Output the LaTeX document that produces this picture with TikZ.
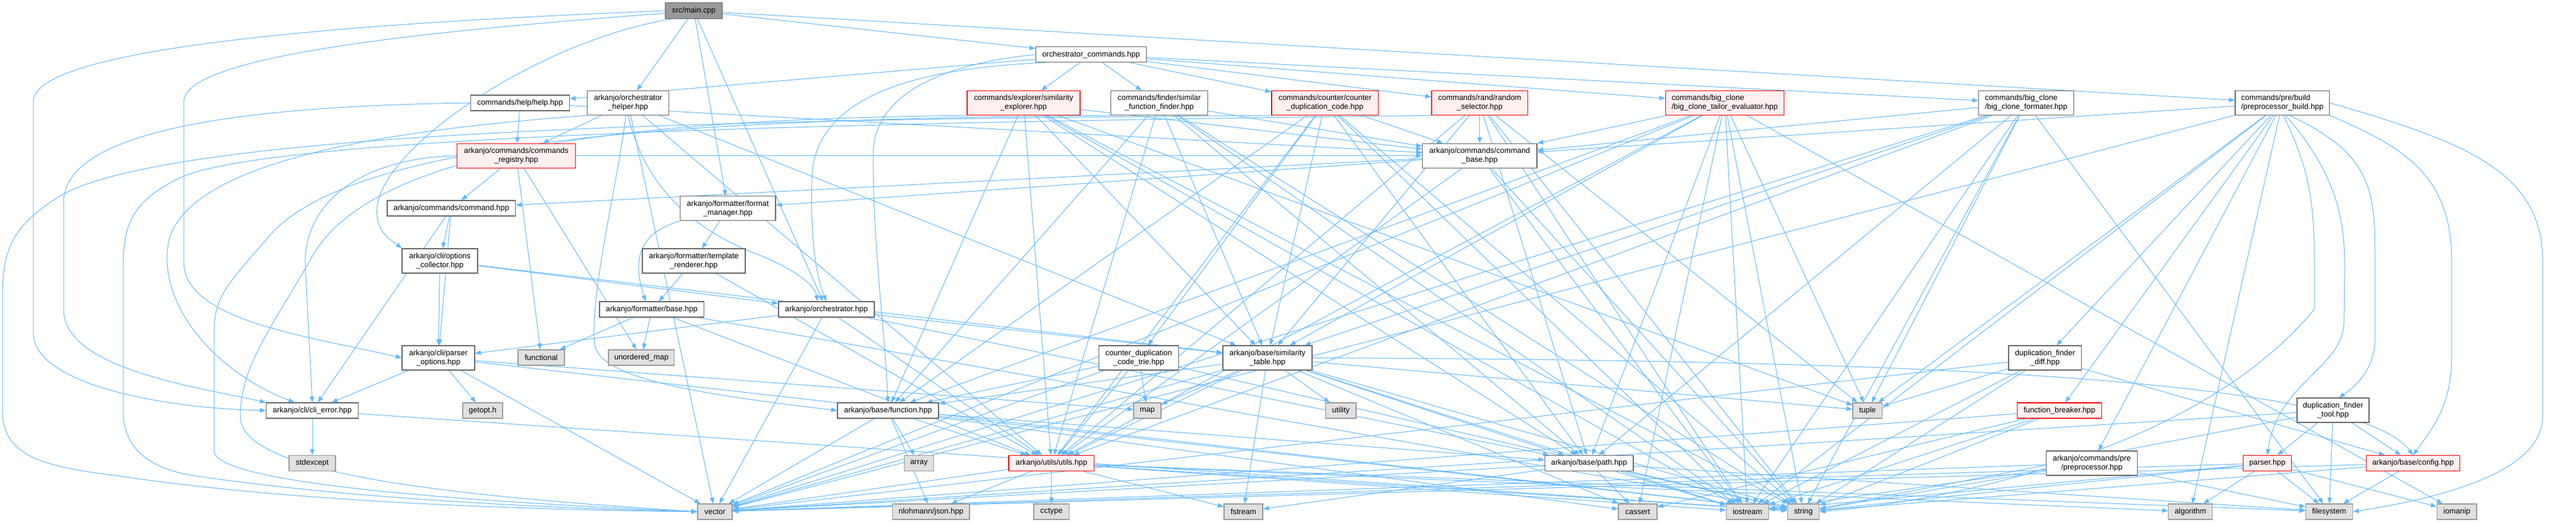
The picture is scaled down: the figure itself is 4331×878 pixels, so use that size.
\documentclass[tikz,border=0pt]{standalone}
\usepackage{fontspec}
\setmainfont{Liberation Sans}
\usetikzlibrary{arrows.meta}
\pgfdeclarelayer{bg}
\pgfsetlayers{bg,main}
\definecolor{edgec}{HTML}{63B8FF}
\definecolor{nbord}{HTML}{666666}
\definecolor{rbord}{HTML}{FF0000}
\definecolor{rfill}{HTML}{FFF0F0}
\definecolor{lbord}{HTML}{999999}
\definecolor{lfill}{HTML}{E0E0E0}
\definecolor{mfill}{HTML}{999999}
\tikzset{
 nb/.style={draw=nbord, fill=white, line width=1.2pt, inner sep=0pt, align=center, font=\fontsize{12.9}{15}\selectfont, text=black},
 nr/.style={nb, draw=rbord, fill=rfill},
 nl/.style={nb, draw=lbord, fill=lfill},
 nm/.style={nb, fill=mfill},
 e/.style={draw=edgec, line width=1pt, -{Triangle[length=10pt,width=7.5pt]}},
}
\newcommand\mynode[6]{\node[#1, minimum width=#2pt, minimum height=#3pt] (#4) at (#5) {#6};}
\begin{document}
\begin{tikzpicture}[x=1pt,y=-1pt]
\useasboundingbox (0,0) rectangle (4331,878);
\mynode{nm}{96}{27}{main}{1166.5,18}{src/main.cpp}
\mynode{nb}{186}{26}{orchcmd}{1834.4,91.7}{orchestrator\_commands.hpp}
\mynode{nb}{165.6}{26}{help}{874.4,173}{commands/help/help.hpp}
\mynode{nb}{137}{41}{helper}{1055.9,173}{arkanjo/orchestrator\\\_helper.hpp}
\mynode{nr}{190}{41}{simexp}{1721,173}{commands/explorer/similarity\\\_explorer.hpp}
\mynode{nb}{163.3}{41}{simfind}{1949,173}{commands/finder/similar\\\_function\_finder.hpp}
\mynode{nr}{179.5}{41}{cntdup}{2227.7,173}{commands/counter/counter\\\_duplication\_code.hpp}
\mynode{nr}{161.6}{41}{randsel}{2487.8,173}{commands/rand/random\\\_selector.hpp}
\mynode{nr,align=left}{199}{41}{bctailor}{2899.8,173}{commands/big\_clone\\/big\_clone\_tailor\_evaluator.hpp}
\mynode{nb,align=left}{159.5}{41}{bcformat}{3406.5,173}{commands/big\_clone\\/big\_clone\_formater.hpp}
\mynode{nb,align=left}{158.5}{41}{prebuild}{3837.3,173}{commands/pre/build\\/preprocessor\_build.hpp}
\mynode{nr}{199.2}{41}{registry}{868,261.7}{arkanjo/commands/commands\\\_registry.hpp}
\mynode{nb}{192.4}{41}{cmdbase}{2487.8,261.7}{arkanjo/commands/command\\\_base.hpp}
\mynode{nb}{215.6}{26}{command}{758.8,350}{arkanjo/commands/command.hpp}
\mynode{nb}{160.4}{41}{fmtmgr}{1223.8,350.3}{arkanjo/formatter/format\\\_manager.hpp}
\mynode{nb}{127}{41}{optcoll}{739.5,438.5}{arkanjo/cli/options\\\_collector.hpp}
\mynode{nb}{173}{41}{tmplrend}{1166.5,438.5}{arkanjo/formatter/template\\\_renderer.hpp}
\mynode{nb}{175.7}{26}{fmtbase}{1095.8,520}{arkanjo/formatter/base.hpp}
\mynode{nb}{161}{26}{orch}{1389.5,520}{arkanjo/orchestrator.hpp}
\mynode{nb}{122}{41}{parseropt}{737,601.5}{arkanjo/cli/parser\\\_options.hpp}
\mynode{nl}{78}{26}{functional}{910,601}{functional}
\mynode{nl}{110.7}{26}{unordmap}{1078.4,601}{unordered\_map}
\mynode{nb}{134}{41}{cdtrie}{1914.6,601.5}{counter\_duplication\\\_code\_trie.hpp}
\mynode{nb}{150}{41}{simtable}{2131,601.5}{arkanjo/base/similarity\\\_table.hpp}
\mynode{nb}{122.5}{41}{dfdiff}{3438.3,601.5}{duplication\_finder\\\_diff.hpp}
\mynode{nb}{154.7}{26}{clierror}{525,690}{arkanjo/cli/cli\_error.hpp}
\mynode{nl}{67}{26}{getopt}{811.5,690}{getopt.h}
\mynode{nb}{170}{26}{function}{1493,690}{arkanjo/base/function.hpp}
\mynode{nl}{46}{26}{map}{1929,690}{map}
\mynode{nl}{51.2}{26}{utility}{2254.4,690}{utility}
\mynode{nl}{49.5}{26}{tuple}{3139.8,690}{tuple}
\mynode{nr}{142}{26}{fbreaker}{3462.5,690}{function\_breaker.hpp}
\mynode{nb}{121}{41}{dftool}{3922.5,689.5}{duplication\_finder\\\_tool.hpp}
\mynode{nl}{78}{26}{stdexcept}{525,778.5}{stdexcept}
\mynode{nl}{49.5}{26}{array}{1545,778.5}{array}
\mynode{nr}{143.5}{26}{utils}{1767.8,778.5}{arkanjo/utils/utils.hpp}
\mynode{nb}{148.6}{26}{path}{2671.7,778.5}{arkanjo/base/path.hpp}
\mynode{nb}{153}{41}{preproc}{3517,778.5}{arkanjo/commands/pre\\/preprocessor.hpp}
\mynode{nr}{81}{26}{parser}{3812,778.5}{parser.hpp}
\mynode{nr}{157.5}{26}{config}{4057,778.5}{arkanjo/base/config.hpp}
\mynode{nl}{58}{26}{vector}{1202,860}{vector}
\mynode{nl}{129.3}{26}{json}{1565.4,860}{nlohmann/json.hpp}
\mynode{nl}{59.5}{26}{cctype}{1767.8,860}{cctype}
\mynode{nl}{65}{26}{fstream}{2090.5,860}{fstream}
\mynode{nl}{65}{26}{cassert}{2753.5,860}{cassert}
\mynode{nl}{71}{26}{iostream}{2938,860}{iostream}
\mynode{nl}{53.4}{26}{string}{3032,860}{string}
\mynode{nl}{74}{26}{algorithm}{3682.8,860}{algorithm}
\mynode{nl}{79}{26}{filesystem}{3916,860}{filesystem}
\mynode{nl}{66.6}{26}{iomanip}{4130.7,860}{iomanip}
\begin{pgfonlayer}{bg}
\fill[white] (0,0) rectangle (4331,878);
\foreach \s/\t in {main/orchcmd, main/helper, main/fmtmgr, main/orch, main/prebuild,
 orchcmd/help, orchcmd/simexp, orchcmd/simfind, orchcmd/cntdup, orchcmd/randsel, orchcmd/bctailor, orchcmd/bcformat,
 help/registry, help/cmdbase,
 helper/registry, helper/simtable, helper/utils, helper/vector,
 registry/command, registry/functional, registry/unordmap, registry/cmdbase,
 command/optcoll, command/parseropt, command/clierror,
 cmdbase/command, cmdbase/fmtmgr, cmdbase/utils, cmdbase/string, cmdbase/iostream,
 optcoll/parseropt, optcoll/orch, optcoll/simtable,
 fmtmgr/tmplrend,
 tmplrend/fmtbase, tmplrend/utils,
 fmtbase/functional, fmtbase/unordmap, fmtbase/utils, fmtbase/string,
 orch/parseropt, orch/simtable, orch/utils, orch/path, orch/vector,
 parseropt/getopt, parseropt/clierror, parseropt/vector, parseropt/map, parseropt/string,
 simexp/cmdbase, simexp/simtable, simexp/function, simexp/utils, simexp/path, simexp/string, simexp/iostream, simexp/tuple,
 simfind/cmdbase, simfind/simtable, simfind/function, simfind/utils, simfind/path, simfind/string, simfind/iostream,
 cntdup/cmdbase, cntdup/cdtrie, cntdup/simtable, cntdup/function, cntdup/utils, cntdup/path, cntdup/string, cntdup/iostream,
 randsel/cmdbase, randsel/simtable, randsel/utils, randsel/path, randsel/string, randsel/iostream, randsel/tuple,
 bctailor/cmdbase, bctailor/simtable, bctailor/function, bctailor/utils, bctailor/path, bctailor/string, bctailor/vector, bctailor/iostream, bctailor/tuple, bctailor/cassert, bctailor/iomanip,
 bcformat/cmdbase, bcformat/simtable, bcformat/utils, bcformat/path, bcformat/string, bcformat/iostream, bcformat/tuple, bcformat/filesystem, bcformat/vector,
 prebuild/cmdbase, prebuild/dfdiff, prebuild/fbreaker, prebuild/preproc, prebuild/tuple, prebuild/vector, prebuild/iostream, prebuild/algorithm,
 cdtrie/utils, cdtrie/map, cdtrie/function, cdtrie/string, cdtrie/vector,
 simtable/function, simtable/map, simtable/utility, simtable/utils, simtable/path, simtable/fstream, simtable/string, simtable/vector, simtable/tuple, simtable/iostream, simtable/cassert,
 function/array, function/json, function/utils, function/path, function/vector, function/string, function/cassert,
 utils/json, utils/cctype, utils/fstream, utils/vector, utils/string, utils/iostream, utils/filesystem, utils/algorithm,
 path/string, path/cassert, path/vector, path/filesystem, path/iostream, path/fstream,
 dfdiff/tuple, dfdiff/string, dfdiff/vector, dfdiff/iostream, dfdiff/config,
 fbreaker/string, fbreaker/vector, fbreaker/iostream, fbreaker/cassert,
 dftool/parser, dftool/config, dftool/filesystem, dftool/vector, dftool/string,
 preproc/string, preproc/vector, preproc/iostream, preproc/filesystem,
 parser/algorithm, parser/filesystem, parser/iomanip, parser/string, parser/vector, parser/iostream,
 config/filesystem, config/string, config/vector,
 clierror/stdexcept, clierror/string}
 \draw[e] (\s) -- (\t);
% curved routes
\draw[e] (main.west) .. controls (700,35) and (60,70) .. (56,170) -- (56,560) .. controls (56,640) and (250,685) .. (clierror.west);
\draw[e] (main.185) .. controls (750,50) and (312,90) .. (309,170) -- (309,440) .. controls (309,540) and (520,565) .. (parseropt.west);
\draw[e] (main.200) .. controls (900,70) and (640,250) .. (634,350) .. controls (630,390) and (660,405) .. (optcoll.north west);
\draw[e] (orchcmd.west) .. controls (1560,110) and (1468,170) .. (1468,260) .. controls (1468,420) and (1488,560) .. (function.north);
\draw[e] (orchcmd.190) .. controls (1520,115) and (1368,170) .. (1365,300) .. controls (1362,420) and (1375,470) .. (orch.north);
\draw[e] (help.west) .. controls (400,178) and (107,220) .. (107,340) -- (107,520) .. controls (107,620) and (330,650) .. (clierror.north west);
\draw[e] (helper.south west) .. controls (700,215) and (330,260) .. (285,400) .. controls (260,500) and (350,620) .. ([xshift=-30pt]clierror.north);
\draw[e] (helper.south) .. controls (1090,340) and (1200,400) .. (1280,430) .. controls (1340,455) and (1370,480) .. ([xshift=-15pt]orch.north);
\draw[e] (helper.-100) .. controls (1040,300) and (990,500) .. (1000,580) .. controls (1010,640) and (1200,665) .. (function.west);
\draw[e] (registry.west) .. controls (620,265) and (515,330) .. (513,440) -- (clierror.north);
\draw[e] (fmtmgr.south west) .. controls (1080,390) and (1060,430) .. ([xshift=-10pt]fmtbase.north);
\draw[e] (cntdup.south west) .. controls (1400,200) and (300,210) .. (100,330) .. controls (20,380) and (4,420) .. (4,500) -- (4,690) .. controls (4,770) and (80,785) .. (200,800) .. controls (500,845) and (900,857) .. (vector.west);
\draw[e] (randsel.south west) .. controls (1500,205) and (450,225) .. (300,300) .. controls (220,340) and (207,380) .. (207,450) -- (207,690) .. controls (207,760) and (260,790) .. (330,800) .. controls (600,840) and (950,855) .. (vector.west);
\draw[e] (simfind.south west) .. controls (1300,200) and (600,215) .. (450,400) .. controls (380,480) and (360,500) .. (360,560) -- (360,760) .. controls (370,800) and (600,835) .. (vector.west);
\draw[e] (simexp.south west) .. controls (1100,200) and (620,240) .. (520,440) .. controls (450,560) and (404,620) .. (404,700) .. controls (404,790) and (700,830) .. (vector.west);
\draw[e] (prebuild.south east) .. controls (4050,250) and (4122,300) .. (4122,440) -- (4122,600) .. controls (4122,680) and (4090,720) .. (config.north);
\draw[e] (prebuild.-60) .. controls (3990,260) and (3993,320) .. (3993,440) -- (3993,570) .. controls (3993,620) and (3960,650) .. ([xshift=10pt]dftool.north);
\draw[e] (prebuild.-75) .. controls (3935,300) and (3942,380) .. (3942,450) -- (3941,540) .. controls (3940,620) and (3830,640) .. (parser.north);
\draw[e] (prebuild.east) .. controls (4150,240) and (4275,290) .. (4275,440) -- (4275,700) .. controls (4275,780) and (4150,830) .. (filesystem.east);
\draw[e] (prebuild.-85) .. controls (3880,280) and (3891,330) .. (3891,440) -- (3891,520) .. controls (3700,750) and (3300,840) .. (string.east);
\draw[e] (simtable.east) .. controls (3000,605) and (3950,620) .. (config.north);
\end{pgfonlayer}
\end{tikzpicture}
\end{document}
